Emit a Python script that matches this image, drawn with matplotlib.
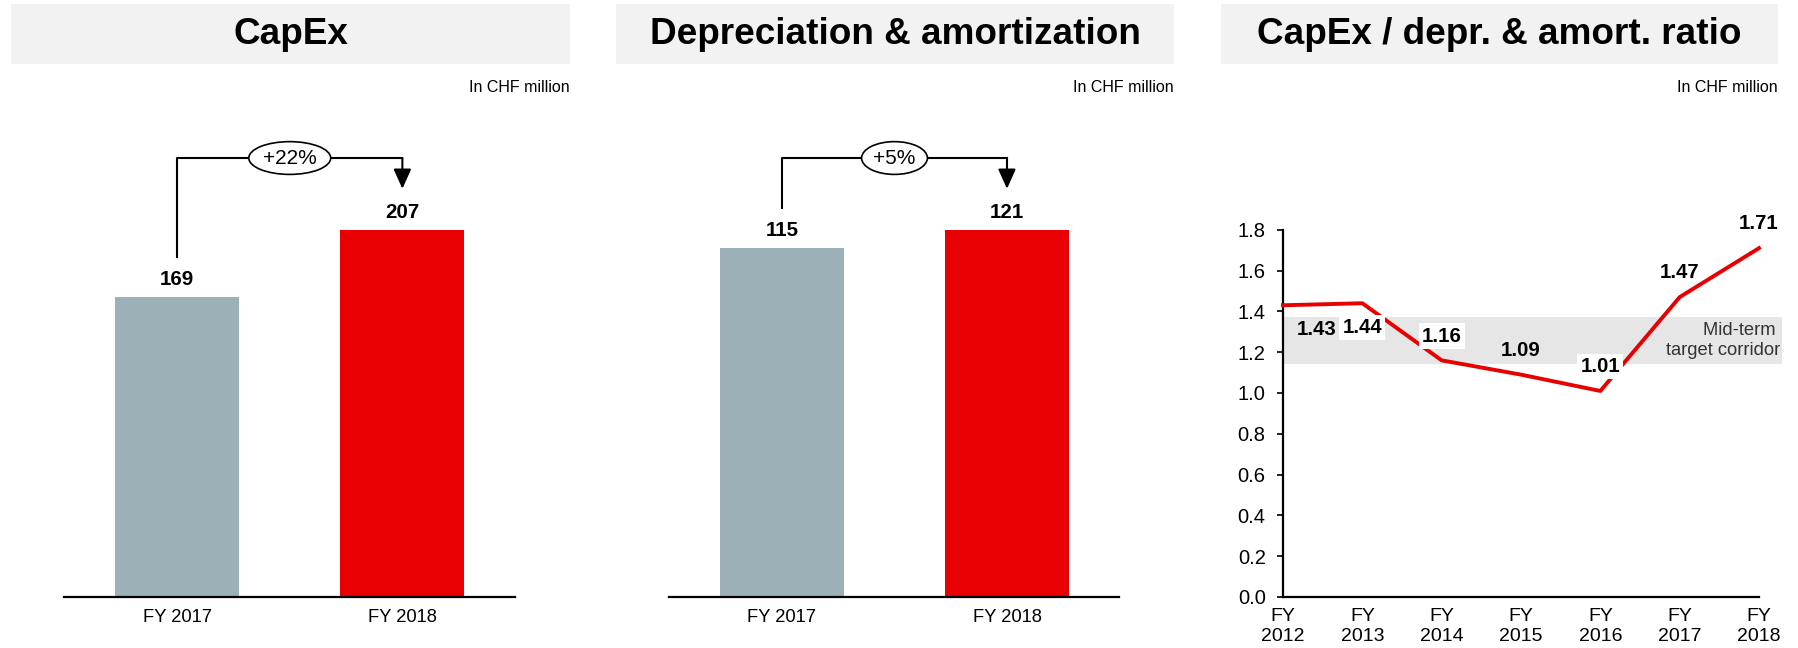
import numpy as np
import matplotlib
matplotlib.use("Agg")
import matplotlib.pyplot as plt
from matplotlib.patches import Rectangle

plt.rcParams['font.family'] = ['Liberation Sans', 'DejaVu Sans']

# data
bar_years = ['FY 2017', 'FY 2018']
capex = [169, 207]
capex_change = '+22%'
dep_amort = [115, 121]
dep_amort_change = '+5%'

ratio_years = ['FY\n2012', 'FY\n2013', 'FY\n2014', 'FY\n2015', 'FY\n2016', 'FY\n2017', 'FY\n2018']
ratio = [1.43, 1.44, 1.16, 1.09, 1.01, 1.47, 1.71]
corridor = (1.14, 1.375)

titles = ['CapEx', 'Depreciation & amortization', 'CapEx / depr. & amort. ratio']
unit_note = 'In CHF million'

GREY = '#9BB0B7'
RED = '#E80000'
HEADER = '#F2F2F2'
BAND = '#E6E6E6'

W, H = 1799, 648
fig = plt.figure(figsize=(W / 100, H / 100), dpi=100)


def px_axes(left, top, right, bottom):
    # axes placed by pixel edges of the figure
    return fig.add_axes([left / W, 1 - bottom / H, (right - left) / W, (bottom - top) / H])


# header boxes, titles and unit notes
headers = [(11.5, 570), (616, 1174), (1221, 1778)]
for (x0, x1), title in zip(headers, titles):
    fig.add_artist(Rectangle((x0 / W, 1 - 64 / H), (x1 - x0) / W, 60 / H,
                             transform=fig.transFigure, fc=HEADER, ec='none'))
    fig.text((x0 + x1) / 2 / W, 1 - 35 / H, title, ha='center', va='center',
             fontsize=26.6, fontweight='bold')
    fig.text(x1 / W, 1 - 88 / H, unit_note, ha='right', va='center', fontsize=11.5)


def bar_panel(ax, values, change):
    x = np.arange(len(values))
    top = max(values) * 1.272
    ax.bar(x, values, width=0.55, color=[GREY, RED])
    ax.set_xlim(-0.5, 1.5)
    ax.set_ylim(0, top)
    for s in ['left', 'right', 'top']:
        ax.spines[s].set_visible(False)
    ax.spines['bottom'].set_linewidth(1.6)
    ax.set_yticks([])
    ax.set_xticks(x, bar_years)
    ax.tick_params(axis='x', length=0, pad=9, labelsize=13.2)
    for xi, v in zip(x, values):
        ax.annotate(str(v), (xi, v), xytext=(0, 12.5), textcoords='offset points',
                    ha='center', va='center', fontsize=14.8, fontweight='bold')

    # bracket with change label
    y_top = 0.94 * top
    y_left = values[0] + 0.0857 * top
    y_tip = values[1] + 0.088 * top
    ax.plot([0, 0, 1], [y_left, y_top, y_top], color='black', lw=1.5, clip_on=False)
    ax.annotate('', xy=(1, y_tip), xytext=(1, y_top),
                arrowprops=dict(arrowstyle='-|>,head_length=1.0,head_width=0.45',
                                mutation_scale=12, lw=1.5, color='black',
                                shrinkA=0, shrinkB=0))
    ax.text(0.5, y_top, change, ha='center', va='center', fontsize=15,
            bbox=dict(boxstyle='ellipse,pad=0.1', fc='white', ec='black', lw=1.2))


ax1 = px_axes(64.5, 130, 515, 597)
bar_panel(ax1, capex, capex_change)
ax2 = px_axes(669.5, 130, 1119.5, 597)
bar_panel(ax2, dep_amort, dep_amort_change)

# ratio line chart
ax3 = px_axes(1283, 229.8, 1759, 597)
xs = np.arange(len(ratio))
ax3.add_patch(Rectangle((0, corridor[0]), 6.29, corridor[1] - corridor[0],
                        fc=BAND, ec='none', zorder=0, clip_on=False))
ax3.plot(xs, ratio, color=RED, lw=2.8, zorder=3, clip_on=False)
ax3.set_xlim(0, 6)
ax3.set_ylim(0, 1.8)
for s in ['right', 'top']:
    ax3.spines[s].set_visible(False)
for s in ['left', 'bottom']:
    ax3.spines[s].set_linewidth(1.6)
ax3.set_xticks(xs, ratio_years)
ax3.tick_params(axis='x', length=0, pad=8, labelsize=14)
yt = np.arange(0, 1.81, 0.2)
ax3.set_yticks(yt, [f'{v:.1f}' for v in yt])
ax3.tick_params(axis='y', length=4.5, width=1.2, pad=8, labelsize=14.5)

label_offsets = [(24, -17.5), (0, -17.5), (0, 17.5), (0, 17.5), (0, 17.5), (0, 17.5), (0, 17.5)]
boxed = [False, True, True, False, True, False, False]
for xi, v, off, b in zip(xs, ratio, label_offsets, boxed):
    bbox = dict(boxstyle='square,pad=0.15', fc='white', ec='none') if b else None
    ax3.annotate(f'{v:.2f}', (xi, v), xytext=off, textcoords='offset points',
                 ha='center', va='center', fontsize=14.7, fontweight='bold',
                 bbox=bbox, zorder=5, annotation_clip=False)

ax3.text(6.27, sum(corridor) / 2, 'Mid-term \ntarget corridor', ha='right', va='center',
         fontsize=13.2, color='#333333', linespacing=1.25, multialignment='right')

fig.savefig('out.png', dpi=100)
